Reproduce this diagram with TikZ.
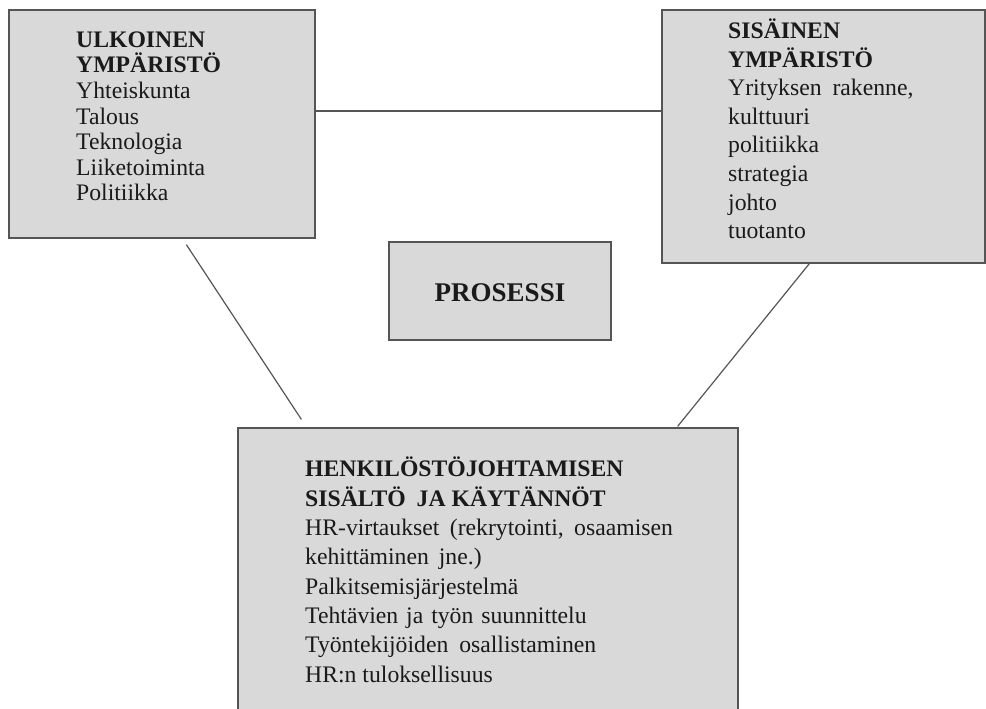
\documentclass[tikz,border=0pt]{standalone}
\usepackage{fontspec}
\setmainfont{Liberation Serif}
\definecolor{boxfill}{HTML}{D9D9D9}
\definecolor{edge}{HTML}{555555}
\definecolor{ink}{HTML}{1A1A1A}
\tikzset{
  box/.style={draw=edge, line width=1.3pt, fill=boxfill, inner sep=0pt},
  conn/.style={draw=edge, line width=1.2pt},
  txt/.style={anchor=north west, inner sep=0pt, align=left, text=ink},
}
\newcommand{\fs}[1]{\fontsize{23.7}{#1}\selectfont}
\newcommand{\topstrut}{\rule{0pt}{24pt}}
\begin{document}
\begin{tikzpicture}[x=1pt,y=-1pt]
\useasboundingbox (0,0) rectangle (986,709);
% boxes
\node[box, minimum width=306pt, minimum height=228pt] (ext) at (162,124) {};
\node[box, minimum width=323pt, minimum height=253pt] (int) at (823.5,136.5) {};
\node[box, minimum width=222pt, minimum height=98pt] (pro) at (500,291) {};
\node[box, minimum width=500pt, minimum height=302pt] (hrm) at (488,579) {};
% connectors
\draw[conn] (ext.east |- 0,111) -- (int.west |- 0,111);
\draw[conn] ([xshift=178pt,yshift=-6pt]ext.south west) -- ([xshift=64pt,yshift=8pt]hrm.north west);
\draw[conn] ([xshift=148pt]int.south west) -- ([xshift=-61pt,yshift=1pt]hrm.north east);
% texts
\node[txt, font=\fs{25.6}] (extt) at (76,23) {\topstrut\textbf{ULKOINEN}\\\textbf{YMPÄRISTÖ}\\Yhteiskunta\\Talous\\Teknologia\\Liiketoiminta\\Politiikka};
\node[txt, font=\fs{28.6}] (intt) at (728,14.3) {\topstrut\textbf{SISÄINEN}\\\textbf{YMPÄRISTÖ}\\Yrityksen\hspace{5pt} rakenne,\\kulttuuri\\politiikka\\strategia\\johto\\tuotanto};
\node[anchor=base, inner sep=0pt, text=ink, font=\fontsize{27}{32}\selectfont\bfseries] (prot) at (500,301.7) {PROSESSI};
\node[txt, font=\fs{29.3}] (hrmt) at (305,452.7) {\topstrut\textbf{HENKILÖSTÖJOHTAMISEN}\\\textbf{SISÄLTÖ\hspace{5pt} JA KÄYTÄNNÖT}\\HR-virtaukset\hspace{4.5pt} (rekrytointi,\hspace{4.5pt} osaamisen\\kehittäminen\hspace{4pt} jne.)\\Palkitsemisjärjestelmä\\Tehtävien\hspace{2pt} ja\hspace{2pt} työn\hspace{2pt} suunnittelu\\Työntekijöiden\hspace{5pt} osallistaminen\\HR:n tuloksellisuus};
\end{tikzpicture}
\end{document}
